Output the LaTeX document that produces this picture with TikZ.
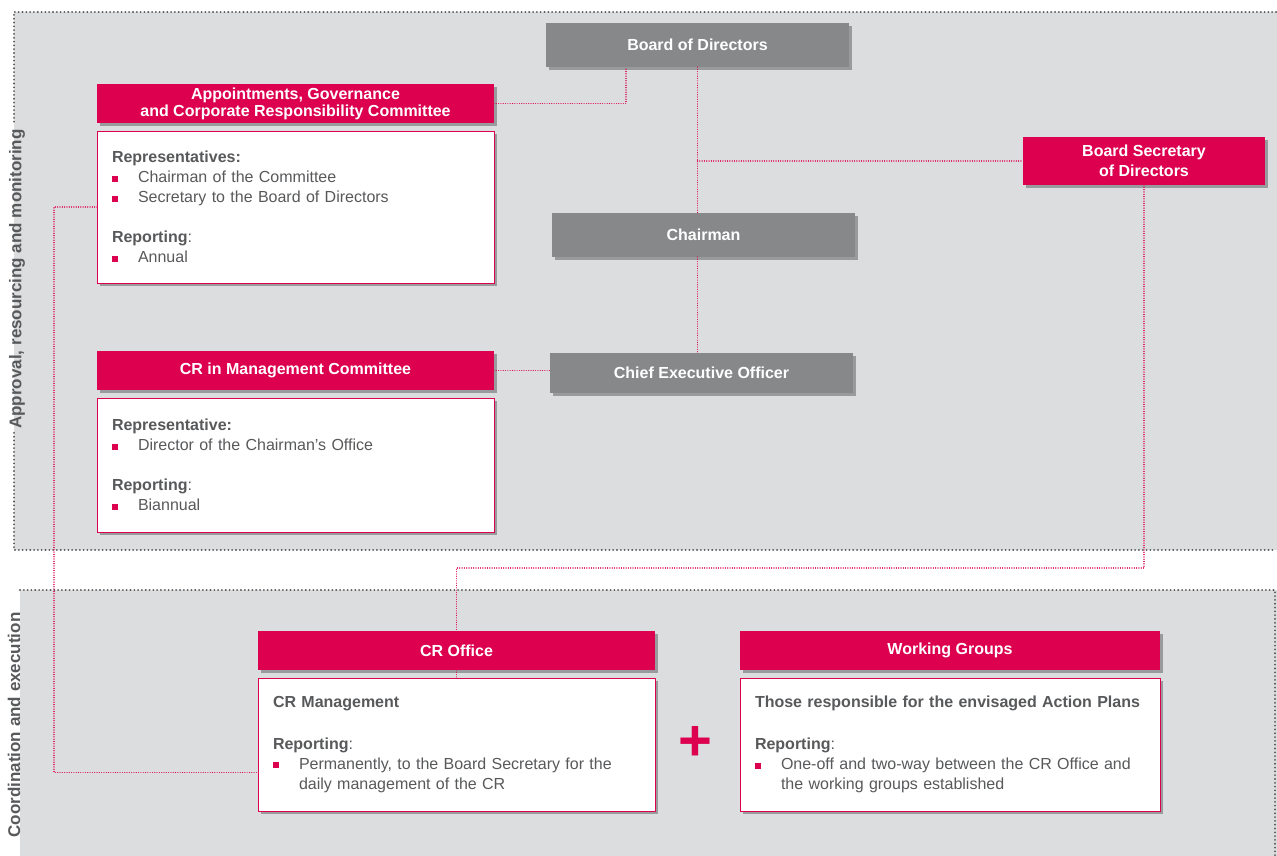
\documentclass[tikz,border=0pt]{standalone}
\usepackage{fontspec}
\setmainfont{Liberation Sans}
\usetikzlibrary{positioning,calc,shadows}

\definecolor{crim}{HTML}{DC004E}
\definecolor{boardgrey}{HTML}{87888A}
\definecolor{zonegrey}{HTML}{DCDDDF}
\definecolor{txtgrey}{HTML}{58595B}
\definecolor{dotgrey}{HTML}{555658}

\newcommand{\itm}[1]{\makebox[26pt][l]{\textcolor{crim}{\rule[1pt]{6pt}{6pt}}}#1}
\newcommand{\itmcont}{\hspace*{26pt}}

\tikzset{
  boxshadow/.style={drop shadow={shadow xshift=3pt, shadow yshift=-3pt, opacity=0.3, fill=black}},
  greybox/.style={fill=boardgrey, text=white, font=\fontsize{16}{17}\selectfont\bfseries,
    inner sep=0pt, outer sep=0pt, anchor=north west, boxshadow},
  redbox/.style={greybox, fill=crim, align=center},
  bodybox/.style={fill=white, draw=crim, line width=0.8pt, text=txtgrey,
    font=\fontsize{16}{20}\selectfont, align=left, inner xsep=15pt, inner ysep=0pt,
    outer sep=0pt, anchor=north, boxshadow},
  link/.style={draw=crim, line width=1.2pt, line cap=round, dash pattern=on 0.01pt off 2.3pt},
  zoneline/.style={draw=dotgrey, line width=2.1pt, line cap=round, dash pattern=on 0.01pt off 3.8pt},
  zonelabel/.style={rotate=90, text=txtgrey, font=\fontsize{17}{18}\selectfont\bfseries}
}

\begin{document}
\begin{tikzpicture}[x=1pt, y=-1pt]
    \useasboundingbox (0,0) rectangle (1277,856);
    %% Zones
    \coordinate (zA) at (14,12);
    \fill[zonegrey] (zA) rectangle (1277,550);
    \fill[zonegrey] (20,590) rectangle (1277,856);
    \node[zonelabel, inner xsep=4pt] (lblA) at (17,279) {Approval, resourcing and monitoring};
    \node[zonelabel] (lblB) at (14,725) {Coordination and execution};
    \draw[zoneline] (1276,12) -- (zA) -- (lblA.east -| zA);
    \draw[zoneline] (lblA.west -| zA) -- (14,550) -- (1276,550);
    \draw[zoneline] (20,590) -- (1275,590) -- (1275,856);

    %% Board side
    \node[greybox, minimum width=303pt, minimum height=44pt] (board) at (546,23) {Board of Directors};
    \node[greybox, minimum width=303pt, minimum height=44pt] (chair) at (552,213) {Chairman};
    \node[greybox, minimum width=303pt, minimum height=40pt] (ceo) at (550,353) {Chief Executive Officer};
    \node[redbox, minimum width=242pt, minimum height=48pt] (bsec) at (1023,137) {Board Secretary\\[3pt]of Directors};

    %% Committees
    \node[redbox, minimum width=397pt, minimum height=39pt] (agc) at (97,84)
        {Appointments, Governance\\and Corporate Responsibility Committee};
    \node[bodybox, text width=367pt, minimum height=152pt, below=8pt of agc] (agcbody)
        {\textbf{Representatives:}\\
         \itm{Chairman of the Committee}\\
         \itm{Secretary to the Board of Directors}\\[20pt]
         \textbf{Reporting}:\\
         \itm{Annual}};
    \node[redbox, minimum width=397pt, minimum height=39pt] (crmc) at (97,351) {CR in Management Committee};
    \node[bodybox, text width=367pt, minimum height=134pt, below=8pt of crmc] (crmcbody)
        {\textbf{Representative:}\\
         \itm{Director of the Chairman's Office}\\[20pt]
         \textbf{Reporting}:\\
         \itm{Biannual}};

    %% Execution
    \node[redbox, minimum width=397pt, minimum height=39pt] (crof) at (258,631) {CR Office};
    \node[bodybox, text width=367pt, minimum height=133pt, below=8pt of crof] (crofbody)
        {\textbf{CR Management}\\[22pt]
         \textbf{Reporting}:\\
         \itm{Permanently, to the Board Secretary for the}\\
         \itmcont daily management of the CR};
    \node[redbox, minimum width=420pt, minimum height=39pt] (wgrp) at (740,631) {Working Groups};
    \node[bodybox, text width=390pt, minimum height=133pt, below=8pt of wgrp] (wgrpbody)
        {\textbf{Those responsible for the envisaged Action Plans}\\[22pt]
         \textbf{Reporting}:\\
         \itm{One-off and two-way between the CR Office and}\\
         \itmcont the working groups established};
    \node[text=crim, font=\fontsize{58}{58}\selectfont\bfseries] (plus) at (695,743) {+};

    %% Links
    \draw[link] (agc.east) -| ($(board.south west)+(80,0)$);
    \draw[link] (board.south) -- (board.south |- chair.north);
    \draw[link] (board.south |- bsec.west) -- (bsec.west);
    \draw[link] (board.south |- chair.south) -- (board.south |- ceo.north);
    \draw[link] (crmc.east) -- (crmc.east -| ceo.west);
    \draw[link] (bsec.south) -- ++(0,383) -| (crof.north);
    \draw[link] (crof.south) -- (crofbody.north);
    \draw[link] (agcbody.west) -- ++(-43,0) |- ($(crofbody.north west)!0.71!(crofbody.south west)$);
\end{tikzpicture}
\end{document}
